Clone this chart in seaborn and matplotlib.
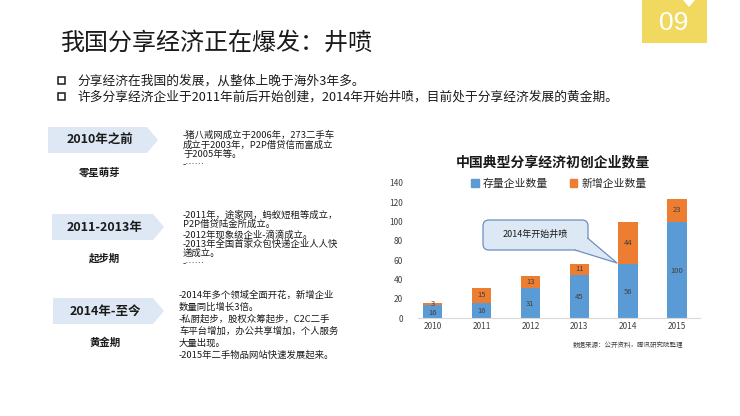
import matplotlib

matplotlib.use("Agg")
import matplotlib.pyplot as plt
import pandas as pd
import seaborn as sns
from matplotlib.patches import FancyBboxPatch, Patch, Polygon

# chart data
years = ["2010", "2011", "2012", "2013", "2014", "2015"]
stock_counts = [13, 16, 31, 45, 56, 100]
new_counts = [3, 15, 13, 11, 44, 23]
stock_labels = ["16", "16", "31", "45", "56", "100"]
new_labels = ["3", "15", "13", "11", "44", "23"]
y_ticks = [0, 20, 40, 60, 80, 100, 120, 140]

# slide text
slide_title = "我国分享经济正在爆发：井喷"
bullets = [
    "分享经济在我国的发展，从整体上晚于海外3年多。",
    "许多分享经济企业于2011年前后开始创建，2014年开始井喷，目前处于分享经济发展的黄金期。",
]
stage_names = ["2010年之前", "2011-2013年", "2014年-至今"]
stage_tags = ["零星萌芽", "起步期", "黄金期"]
stage_notes = [
    ["-猪八戒网成立于2006年，273二手车", "成立于2003年，P2P借贷信而富成立", "于2005年等。", "-……"],
    ["-2011年，途家网，蚂蚁短租等成立，", "P2P借贷陆金所成立。", "-2012年现象级企业-滴滴成立。",
     "-2013年全国首家众包快递企业人人快", "递成立。", "-……"],
    ["-2014年多个领域全面开花，新增企业", "数量同比增长3倍。", "-私厨起步，股权众筹起步，C2C二手",
     "车平台增加，办公共享增加，个人服务", "大量出现。", "-2015年二手物品网站快速发展起来。"],
]

BLUE = "#5b9bd5"
ORANGE = "#ed7d31"
LIGHT = "#dde8f4"
TEXT = "#1a1a1a"

sns.set_theme(style="white")
plt.rcParams["font.family"] = ["Noto Sans CJK SC", "DejaVu Sans"]

fig = plt.figure(figsize=(7.4, 4.16), dpi=100)
fig.patch.set_facecolor("white")

# pixel-space layer for the slide
bg = fig.add_axes([0, 0, 1, 1])
bg.set_xlim(0, 740)
bg.set_ylim(416, 0)
bg.axis("off")

# page tab
bg.add_patch(Polygon([(642, 0), (683, 0), (689, 7), (695, 0), (707, 0), (707, 43), (642, 43)],
                     closed=True, fc="#f0d95e", ec="none"))
bg.text(674, 23, "09", color="white", fontsize=19, ha="center", va="center",
        family=["Liberation Sans Narrow", "Liberation Sans", "DejaVu Sans"])

bg.text(61, 43, slide_title, fontsize=17.3, color=TEXT, ha="left", va="center")
for i, line in enumerate(bullets):
    y = 81 + i * 16
    bg.add_patch(plt.Rectangle((58, y - 4), 7, 7, fill=False, ec=TEXT, lw=1.1))
    bg.text(77, y, line, fontsize=9.15, color=TEXT, ha="left", va="center")

# timeline chevrons
chevrons = [(48, 127, 147, 158), (52, 214, 153, 164), (53, 298, 153, 164)]
tag_y = [172, 258, 343]
note_x = [183, 183, 179]
note_y0 = [135, 215, 295]
note_step = [9.8, 9.7, 12.0]
for k, (x0, y0, xb, xt) in enumerate(chevrons):
    h = 26
    bg.add_patch(Polygon([(x0, y0), (xb, y0), (xt, y0 + h / 2), (xb, y0 + h), (x0, y0 + h)],
                         closed=True, fc=LIGHT, ec="none"))
    bg.text((x0 + xb) / 2 + 2, y0 + h / 2, stage_names[k], fontsize=9, fontweight="bold",
            color=TEXT, ha="center", va="center")
    bg.text((x0 + xb) / 2 + 2, tag_y[k], stage_tags[k], fontsize=7.5, fontweight="bold",
            color=TEXT, ha="center", va="center")
    for j, line in enumerate(stage_notes[k]):
        bg.text(note_x[k], note_y0[k] + j * note_step[k], line, fontsize=6.75, color=TEXT,
                ha="left", va="center")

# chart
df = pd.DataFrame({"year": years, "stock": stock_counts, "new": new_counts})
df["total"] = df["stock"] + df["new"]

ax = fig.add_axes([418 / 740, 1 - 318 / 416, 282 / 740, 135 / 416])
sns.barplot(data=df, x="year", y="total", color=ORANGE, saturation=1, width=0.4,
            linewidth=0, edgecolor="none", ax=ax)
sns.barplot(data=df, x="year", y="stock", color=BLUE, saturation=1, width=0.4,
            linewidth=0, edgecolor="none", ax=ax)

for i in range(len(years)):
    ax.text(i, df["stock"][i] / 2 - 1, stock_labels[i], fontsize=5.5, color="#404040",
            ha="center", va="center")
    ax.text(i, df["stock"][i] + df["new"][i] / 2, new_labels[i], fontsize=5.5, color="#404040",
            ha="center", va="center")

ax.set_xlim(-0.3, 5.47)
ax.set_ylim(0, 140)
ax.set_yticks(y_ticks)
ax.set_xlabel("")
ax.set_ylabel("")
ax.tick_params(axis="y", length=0, pad=11, labelsize=6, labelcolor="#404040")
ax.tick_params(axis="x", length=0, pad=3, labelsize=6, labelcolor="#404040")
for side in ["top", "right", "left"]:
    ax.spines[side].set_visible(False)
ax.spines["bottom"].set_color("#d9d9d9")
ax.spines["bottom"].set_linewidth(0.8)
ax.set_facecolor("none")

ax.legend(handles=[Patch(color=BLUE, label="存量企业数量"), Patch(color=ORANGE, label="新增企业数量")],
          ncol=2, loc="center", bbox_to_anchor=(0.5, 0.995), frameon=False, fontsize=7.8,
          handlelength=0.7, handleheight=0.7, handletextpad=0.4, columnspacing=2.0)

fig.text(553 / 740, 1 - 162 / 416, "中国典型分享经济初创企业数量", fontsize=10, fontweight="bold",
         color=TEXT, ha="center", va="center")

# callout in pixel layer, pointing at the 2014 bar
bg.add_patch(FancyBboxPatch((483, 220), 105, 30, boxstyle="round,pad=0,rounding_size=6",
                            fc="#dce9f5", ec="#6b8fbf", lw=0.9, zorder=3))
bg.add_patch(Polygon([(575, 249.5), (587.5, 238), (617, 263)], closed=True,
                     fc="#dce9f5", ec="none", zorder=4))
bg.plot([575, 617, 587.5], [250, 263, 238], color="#6b8fbf", lw=0.9, zorder=5)
bg.text(535, 234, "2014年开始井喷", fontsize=6.5, color=TEXT, ha="center", va="center", zorder=6)

bg.text(628, 345, "数据来源：公开资料，腾讯研究院整理", fontsize=4.7, color="#404040",
        ha="center", va="center")

fig.savefig("out.png", dpi=100)
